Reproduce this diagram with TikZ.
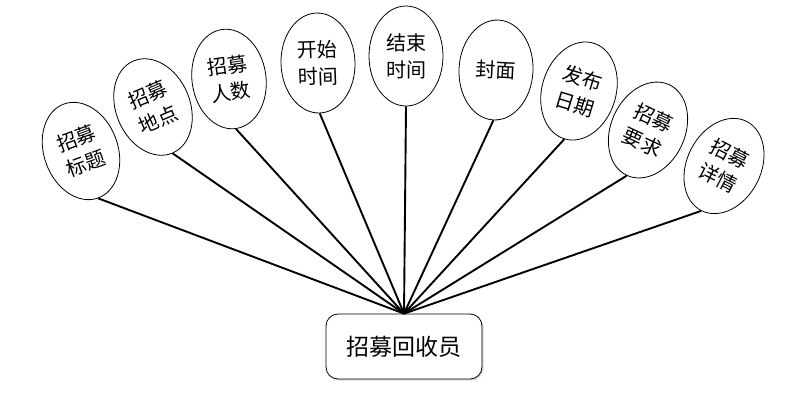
\documentclass[tikz,border=0pt]{standalone}
\usepackage{fontspec}
\newfontfamily\cjk{Noto Sans CJK SC}
\usetikzlibrary{shapes.geometric,shadows}
\tikzset{
 attr/.style={draw, ellipse, line width=0.8pt, fill=white, minimum width=74pt, minimum height=100pt, inner sep=0pt, align=center, font=\cjk\fontsize{20}{27}\selectfont},
 entity/.style={draw, line width=0.8pt, rounded corners=12pt, fill=white, minimum width=156pt, minimum height=65pt, font=\cjk\fontsize{23}{28}\selectfont, drop shadow={shadow xshift=1.5pt, shadow yshift=-1.5pt, opacity=0.3}},
 link/.style={line width=1.9pt}
}

\begin{document}
\begin{tikzpicture}[x=1pt,y=-1pt]
\useasboundingbox (0,0) rectangle (798,400);
\node[entity] (recycler) at (404,346.5) {招募回收员};
% attribute ellipses
\node[attr, rotate=20]  (title)  at (81,151)  {招募\\标题};
\node[attr, rotate=23]  (place)  at (153,107) {招募\\地点};
\node[attr, rotate=8]   (count)  at (229,79)  {招募\\人数};
\node[attr, rotate=2]   (start)  at (318,63)  {开始\\时间};
\node[attr]             (finish) at (406,56)  {结束\\时间};
\node[attr, rotate=-3]  (cover)  at (496,70)  {封面};
\node[attr, rotate=-17] (date)   at (579,91)  {发布\\日期};
\node[attr, rotate=-25] (demand) at (648,130) {招募\\要求};
\node[attr, rotate=-27] (detail) at (724,166) {招募\\详情};
\foreach \n in {title,place,count,start,finish,cover,date,demand,detail}
  \draw[link] (\n.south) -- (recycler.north);
\end{tikzpicture}
\end{document}
